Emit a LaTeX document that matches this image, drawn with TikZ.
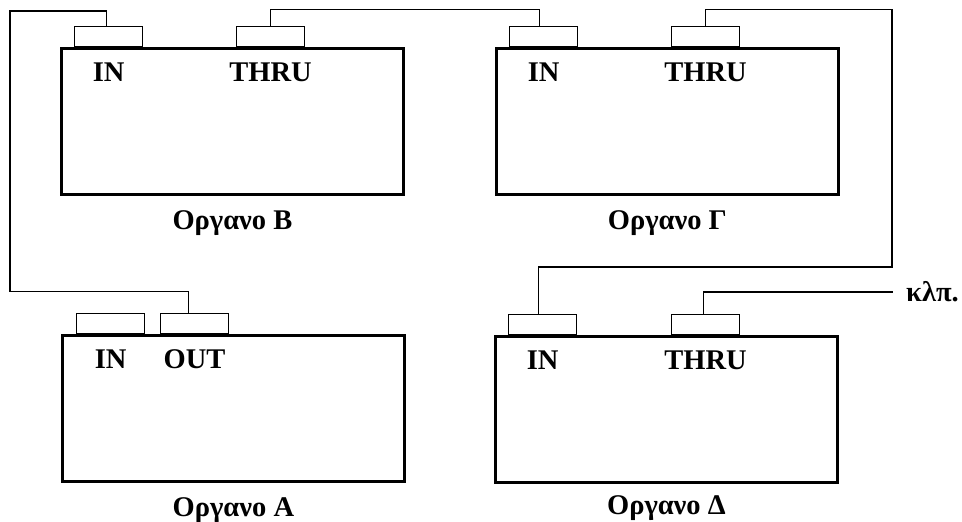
\documentclass[tikz,border=0pt]{standalone}
\usepackage{fontspec}
\setmainfont{Liberation Serif}
\usetikzlibrary{positioning}

\begin{document}
\begin{tikzpicture}[x=1pt, y=-1pt,
	device/.style={draw, line width=2.8pt, minimum width=342pt, minimum height=146pt, inner sep=0pt, anchor=north west},
	port/.style={draw, line width=1.2pt, minimum width=68pt, minimum height=20pt, inner sep=0pt, anchor=south west},
	lbl/.style={font=\fontsize{28.5}{32}\selectfont\bfseries, inner sep=0pt},
	wire/.style={line width=1.2pt}]
			%%%%% START %%%%%
			
			\useasboundingbox (0,0) rectangle (962,522);
			
			% devices
			\node[device] (B) at (60, 47) {};
			\node[device] (G) at (495, 47) {};
			\node[device] (A) at (61, 334) {};
			\node[device] (D) at (494, 335) {};
			
			% ports
			\node[port] (Bin) at ([xshift=14pt]B.north west) {};
			\node[port] (Bthru) at ([xshift=176pt]B.north west) {};
			\node[port] (Gin) at ([xshift=14pt]G.north west) {};
			\node[port] (Gthru) at ([xshift=176pt]G.north west) {};
			\node[port] (Ain) at ([xshift=15pt]A.north west) {};
			\node[port] (Aout) at ([xshift=99pt]A.north west) {};
			\node[port] (Din) at ([xshift=14pt]D.north west) {};
			\node[port] (Dthru) at ([xshift=177pt]D.north west) {};
			
			% port labels
			\node[lbl] (BinL) at ([yshift=-25pt]Bin.south) {IN};
			\node[lbl] (BthruL) at ([yshift=-25pt]Bthru.south) {THRU};
			\node[lbl] (GinL) at ([yshift=-25pt]Gin.south) {IN};
			\node[lbl] (GthruL) at ([yshift=-25pt]Gthru.south) {THRU};
			\node[lbl] (AinL) at ([yshift=-25pt]Ain.south) {IN};
			\node[lbl] (AoutL) at ([yshift=-25pt]Aout.south) {OUT};
			\node[lbl] (DinL) at ([yshift=-25pt]Din.south) {IN};
			\node[lbl] (DthruL) at ([yshift=-25pt]Dthru.south) {THRU};
			
			% device names
			\node[lbl] (Bname) at ([yshift=-27pt]B.south) {Οργανο Β};
			\node[lbl] (Gname) at ([yshift=-27pt]G.south) {Οργανο Γ};
			\node[lbl] (Aname) at ([yshift=-27pt]A.south) {Οργανο Α};
			\node[lbl] (Dname) at ([yshift=-24pt]D.south) {Οργανο Δ};
			
			% cables
			\coordinate (wend) at (893, 292);
			\node[lbl, right=13pt of wend] (etc) {κλπ.};
			
			\draw[wire] ([xshift=-6pt]Aout.north) -- ++(0,-21) -| (10, 11) -| ([xshift=-2pt]Bin.north);
			\draw[wire] (Bthru.north) -- ++(0,-16) -| ([xshift=-4pt]Gin.north);
			\draw[wire] (Gthru.north) -- ++(0,-16) -| (892, 267) -| ([xshift=-4pt]Din.north);
			\draw[wire] ([xshift=-2pt]Dthru.north) |- (wend);
			
			%%%%% END %%%%%
\end{tikzpicture}
\end{document}
